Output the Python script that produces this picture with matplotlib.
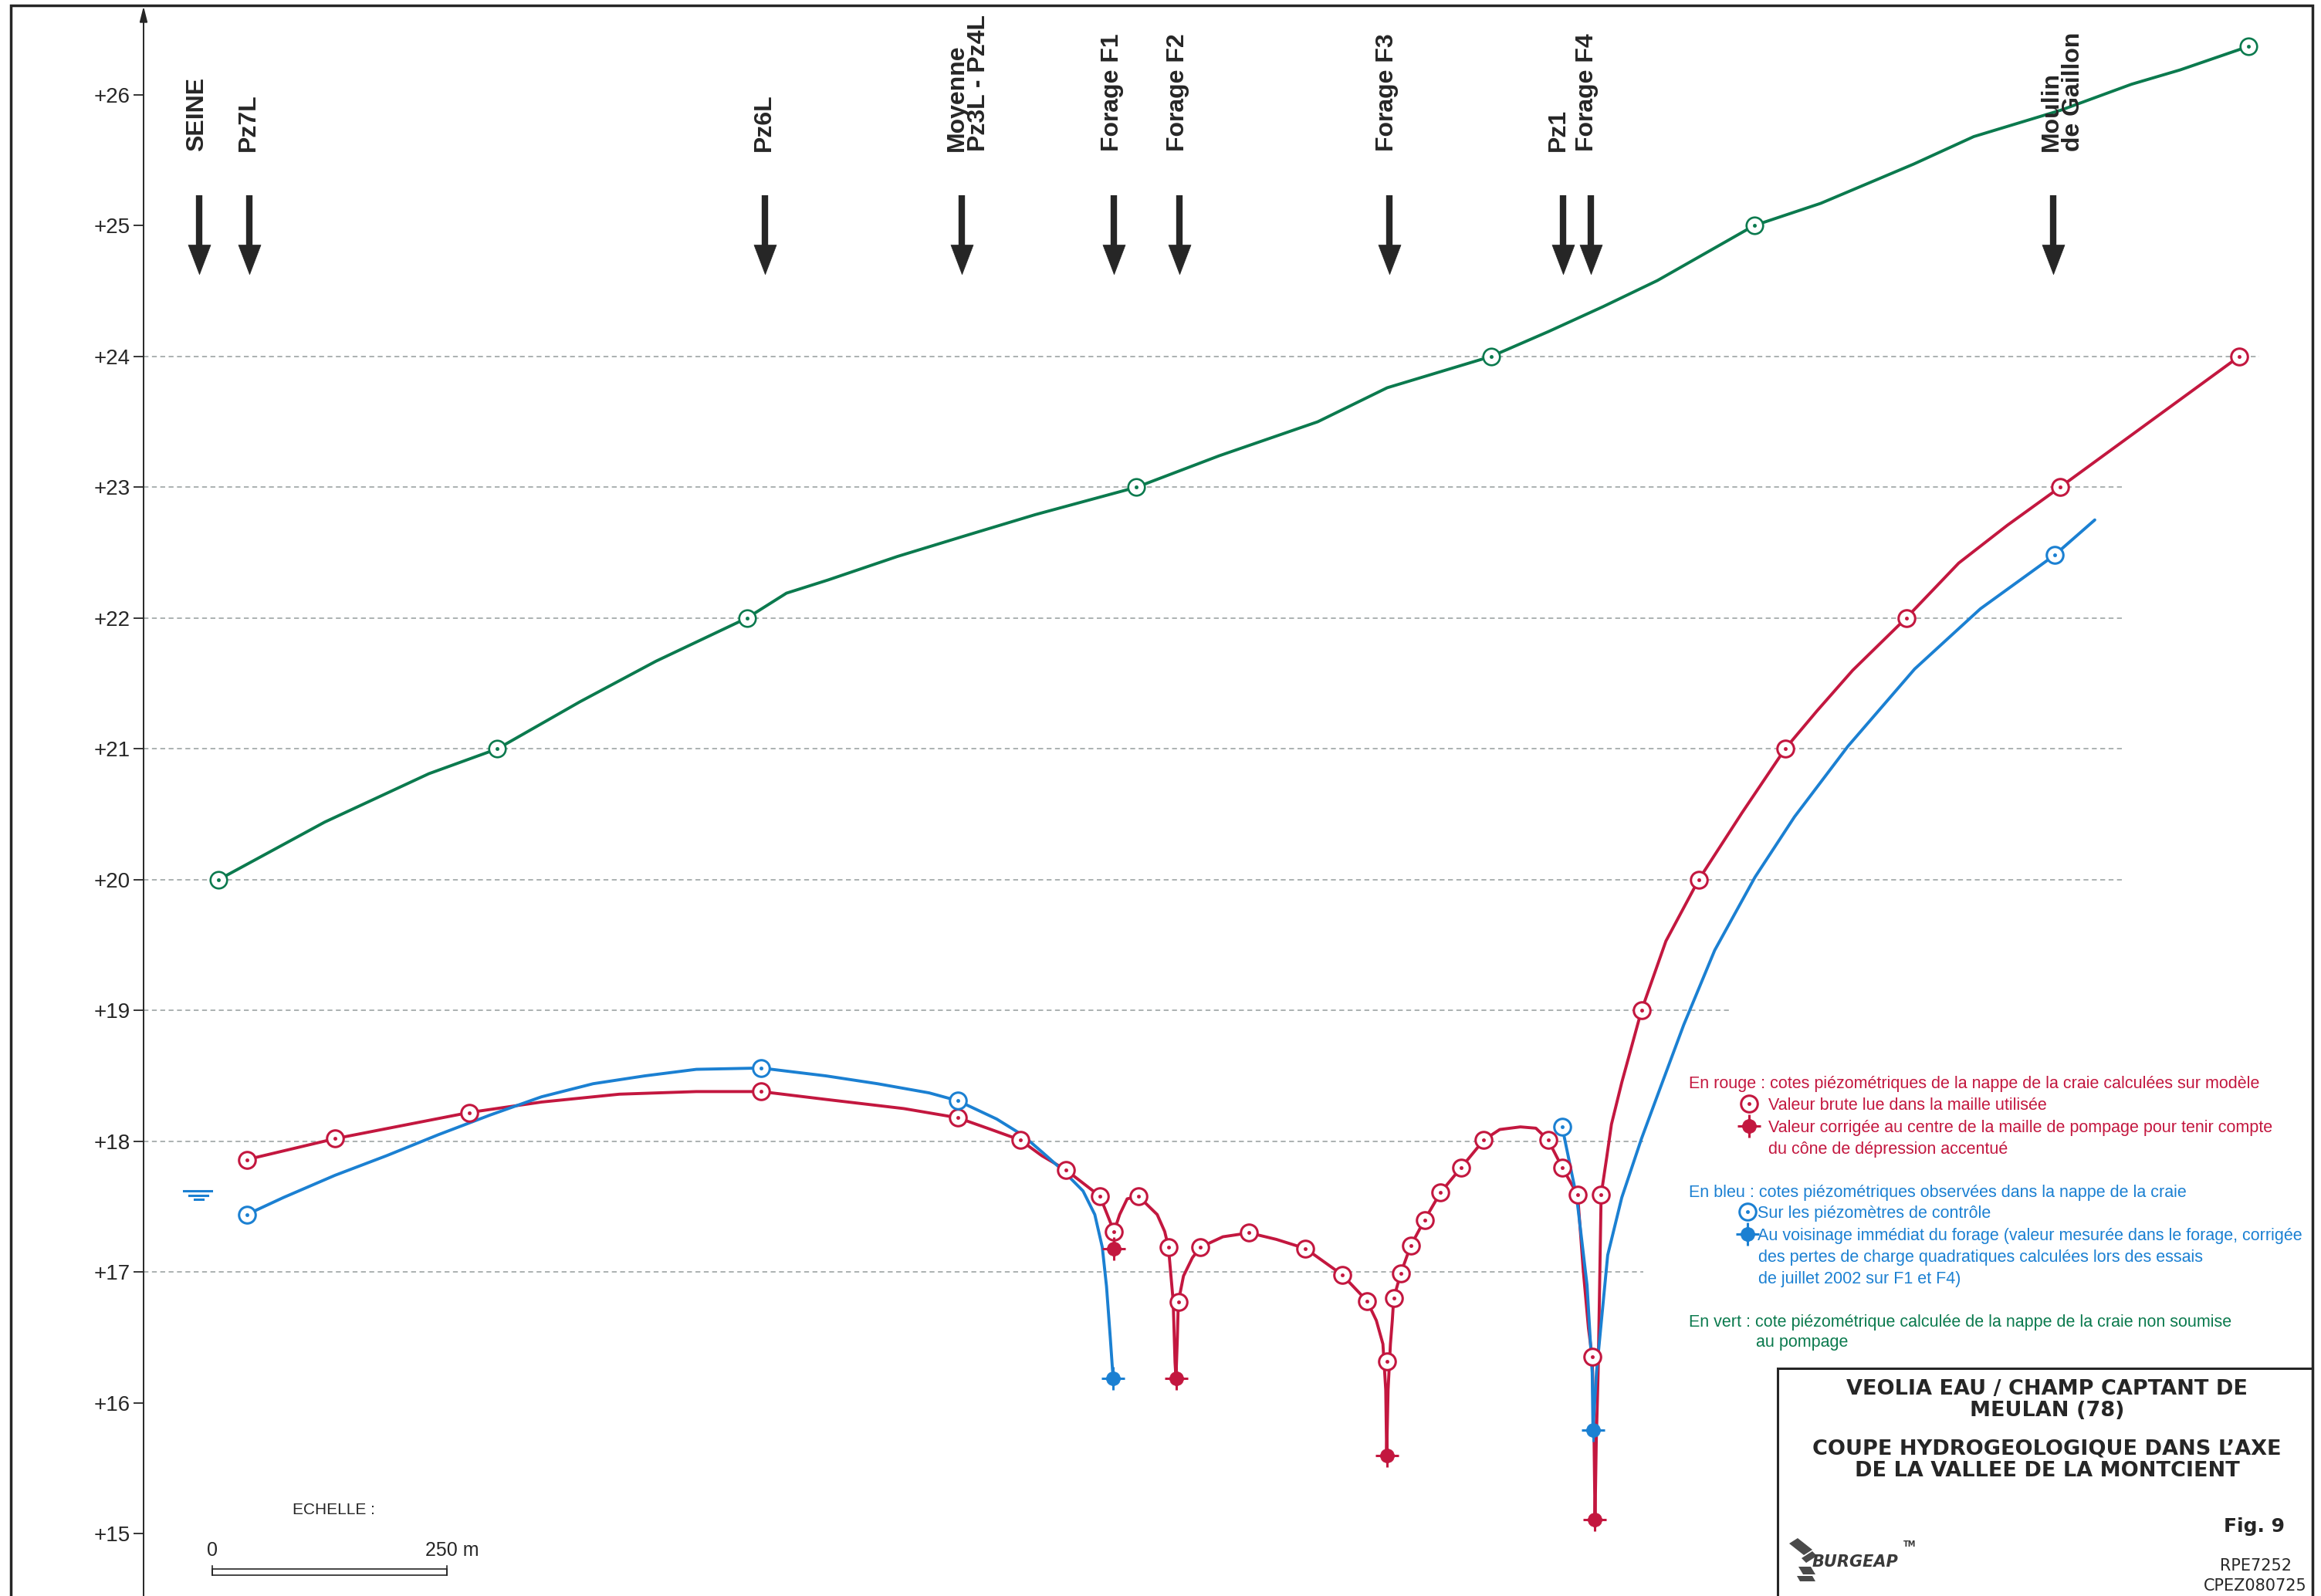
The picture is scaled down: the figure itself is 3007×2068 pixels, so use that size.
import matplotlib
matplotlib.use('Agg')
import matplotlib.pyplot as plt
from matplotlib import font_manager
from matplotlib.patches import Rectangle, Polygon
from matplotlib.path import Path

W, H = 3007, 2068

RED = '#c3173f'
BLUE = '#1b80d2'
GREEN = '#0b7a4e'
DARK = '#262626'
GRID = '#a5abab'

names = {f.name for f in font_manager.fontManager.ttflist}
SANS = 'Liberation Sans' if 'Liberation Sans' in names else 'DejaVu Sans'
NARROW = 'Liberation Sans Narrow' if 'Liberation Sans Narrow' in names else SANS
ECH_SIZE = 16 if NARROW != SANS else 15

# distances along the section in metres, heads in m
levels = list(range(15, 27))

# green : head of the chalk aquifer without pumping
green_x = [80, 193, 304, 377, 465, 546, 643, 685, 729, 803, 876, 950, 1058, 1146,
           1251, 1325, 1436, 1497, 1555, 1613, 1716, 1787, 1886, 1950, 2042, 2118,
           2170, 2243]
green_y = [20.00, 20.44, 20.81, 21.00, 21.36, 21.67, 22.00, 22.19, 22.29, 22.47,
           22.63, 22.79, 23.00, 23.24, 23.50, 23.76, 24.00, 24.19, 24.38, 24.58,
           25.00, 25.17, 25.47, 25.68, 25.88, 26.08, 26.19, 26.37]
green_pts_x = [80, 377, 643, 1058, 1436, 1716, 2243]
green_pts_y = [20.00, 21.00, 22.00, 23.00, 24.00, 25.00, 26.37]

# red : model heads
red_x = [110, 204, 347, 424, 507, 589, 658, 727, 810, 867.5, 903, 934, 957, 983, 1019,
         1034, 1040, 1048, 1060, 1080, 1088, 1092, 1097, 1099, 1100, 1101.5, 1102.5,
         1108, 1117.5, 1126, 1150, 1178, 1207, 1238, 1277, 1303.5, 1313.5, 1320.5,
         1323.5, 1324.5, 1326, 1328.5, 1330.5, 1332, 1339.5, 1350, 1365, 1382, 1404,
         1428, 1445, 1467, 1483.5, 1496.5, 1511.5, 1528, 1534, 1539.5, 1543.5, 1545.5,
         1546.5, 1547.8, 1549.8, 1551.4, 1553, 1559, 1564, 1575, 1596, 1622, 1657,
         1703, 1749, 1783, 1821, 1878, 1934, 1986, 2042, 2233]
red_y = [17.86, 18.02, 18.22, 18.30, 18.36, 18.38, 18.38, 18.32, 18.25, 18.18, 18.09,
         18.01, 17.89, 17.78, 17.58, 17.31, 17.44, 17.56, 17.58, 17.44, 17.31, 17.19,
         16.78, 16.31, 16.19, 16.50, 16.77, 16.97, 17.11, 17.19, 17.27, 17.30, 17.25,
         17.18, 16.98, 16.78, 16.63, 16.45, 16.10, 15.60, 16.10, 16.45, 16.63, 16.80,
         16.99, 17.20, 17.40, 17.61, 17.80, 18.01, 18.09, 18.11, 18.10, 18.01, 17.80,
         17.59, 17.01, 16.57, 16.35, 15.70, 15.11, 15.70, 16.23, 16.90, 17.59, 17.88,
         18.13, 18.45, 19.00, 19.53, 20.00, 20.51, 21.00, 21.29, 21.60, 22.00, 22.42,
         22.71, 23.00, 24.00]
red_pts_x = [110, 204, 347, 658, 867.5, 934, 983, 1019, 1034, 1060, 1092, 1102.5, 1126,
             1178, 1238, 1277, 1303.5, 1325, 1332, 1339.5, 1350, 1365, 1382, 1404, 1428,
             1496.5, 1511.5, 1528, 1544, 1553, 1596, 1657, 1749, 1878, 2042, 2233]
red_pts_y = [17.86, 18.02, 18.22, 18.38, 18.18, 18.01, 17.78, 17.58, 17.31, 17.58,
             17.19, 16.77, 17.19, 17.30, 17.18, 16.98, 16.78, 16.32, 16.80, 16.99,
             17.20, 17.40, 17.61, 17.80, 18.01, 18.01, 17.80, 17.59, 16.35, 17.59,
             19.00, 20.00, 21.00, 22.00, 23.00, 24.00]
red_pump_x = [1034, 1100, 1324.5, 1546.5]
red_pump_y = [17.18, 16.19, 15.60, 15.11]

# blue : observed heads
blue_x1 = [110, 149, 204, 259, 314, 369, 424, 479, 534, 589, 658, 727, 782, 837, 867.5,
           909, 936, 957, 979, 1001, 1013.5, 1021.5, 1026, 1030, 1033]
blue_y1 = [17.44, 17.57, 17.74, 17.89, 18.05, 18.20, 18.34, 18.44, 18.50, 18.55, 18.56,
           18.50, 18.44, 18.37, 18.31, 18.17, 18.05, 17.92, 17.78, 17.62, 17.44, 17.19,
           16.89, 16.50, 16.19]
blue_x2 = [1511.5, 1527, 1538, 1543.5, 1544.3, 1548, 1560, 1575, 1596, 1613, 1641, 1674,
           1717, 1759, 1816, 1887, 1957, 2036, 2079]
blue_y2 = [18.11, 17.57, 16.90, 16.23, 15.79, 16.23, 17.13, 17.57, 18.02, 18.35, 18.89,
           19.46, 20.02, 20.48, 21.02, 21.61, 22.07, 22.48, 22.75]
blue_pts_x = [110, 658, 867.5, 1511.5, 2036]
blue_pts_y = [17.44, 18.56, 18.31, 18.11, 22.48]
blue_pump_x = [1033, 1544.3]
blue_pump_y = [16.19, 15.79]

# locations along the section
loc_names = ['SEINE', 'Pz7L', 'Pz6L', 'Moyenne', 'Pz3L - Pz4L', 'Forage F1',
             'Forage F2', 'Forage F3', 'Pz1', 'Forage F4', 'Moulin', 'de Gaillon']
loc_label_x = [57, 112, 661, 867, 890, 1032, 1102, 1325, 1507, 1538, 2033, 2056]
arrow_x = [59, 112.5, 662, 872, 1034, 1104, 1327, 1512, 1542, 2035]

grid_levels = [24, 23, 22, 21, 20, 19, 18, 17]
grid_ends = [2254, 2109, 2109, 2109, 2109, 1691, 1598, 1598]


def fx(x):
    return x / W


def fy(y):
    return 1 - y / H


fig = plt.figure(figsize=(W / 100, H / 100), dpi=100)
ax = fig.add_axes([186 / W, 0, (2998 - 186) / W, 1 - 8 / H])
ax.set_xlim(0, 2312.6)
ax.set_ylim(14.524, 26.677)
ax.patch.set_visible(False)
for s in ax.spines.values():
    s.set_visible(False)
ax.set_xticks([])
ax.set_yticks(levels)
ax.set_yticklabels(['+%d' % v for v in levels], fontsize=20, fontfamily=SANS, color=DARK)
ax.tick_params(axis='y', direction='out', length=9.5, width=1.3, pad=3, color=DARK)
ax.annotate('', xy=(0, 1), xytext=(0, 0), xycoords='axes fraction',
            arrowprops=dict(arrowstyle='-|>,head_length=0.6,head_width=0.15',
                            color=DARK, lw=1.4, shrinkA=0, shrinkB=0, mutation_scale=20))

ax.hlines(grid_levels, 0, grid_ends, colors=GRID, linestyles=(0, (3.5, 2.5)), lw=1.3, zorder=1)


def open_pts(xs, ys, c, mew=2.2, **kw):
    ax.plot(xs, ys, ls='none', marker='o', ms=15.5, mfc='white', mec=c, mew=mew, zorder=4, **kw)
    ax.plot(xs, ys, ls='none', marker='o', ms=3, mfc=c, mec=c, mew=0.5, zorder=5, **kw)


def pump_pts(xs, ys, c, **kw):
    ax.plot(xs, ys, ls='none', marker='+', ms=22, mew=2.2, color=c, zorder=6, **kw)
    ax.plot(xs, ys, ls='none', marker='o', ms=13, mfc=c, mec=c, mew=0.5, zorder=6, **kw)


line_kw = dict(lw=2.8, zorder=3, solid_joinstyle='round', solid_capstyle='round')
ax.plot(green_x, green_y, color=GREEN, **line_kw)
ax.plot(red_x, red_y, color=RED, **line_kw)
ax.plot(blue_x1, blue_y1, color=BLUE, **line_kw)
ax.plot(blue_x2, blue_y2, color=BLUE, **line_kw)

open_pts(green_pts_x, green_pts_y, GREEN, mew=1.9)
open_pts(red_pts_x, red_pts_y, RED)
open_pts(blue_pts_x, blue_pts_y, BLUE)
pump_pts(red_pump_x, red_pump_y, RED)
pump_pts(blue_pump_x, blue_pump_y, BLUE)

# location arrows and labels
head = Path([(-0.19, 0), (0.19, 0), (0, -0.5), (-0.19, 0)],
            [Path.MOVETO, Path.LINETO, Path.LINETO, Path.CLOSEPOLY])
for x in arrow_x:
    ax.plot([x, x], [25.23, 24.80], color=DARK, lw=6, solid_capstyle='butt', zorder=3)
    ax.plot([x], [24.855], marker=head, ms=55, mfc=DARK, mec=DARK, mew=0.5, zorder=3)
for name, x in zip(loc_names, loc_label_x):
    ax.text(x, 25.57, name, rotation=90, ha='center', va='bottom', fontsize=23,
            fontweight='bold', fontfamily=SANS, color=DARK)

# water level sign near the Seine
for (x0, x1, y) in [(238, 274, 1543), (245, 269, 1548.5), (252, 263, 1554)]:
    ax.plot([fx(x0), fx(x1)], [fy(y), fy(y)], color=BLUE, lw=2.2,
            transform=fig.transFigure, clip_on=False)

# scale bar (250 m)
ax.add_patch(Rectangle((73.2, 14.683), 250, 0.045, fill=False, ec=DARK, lw=1.2))
ax.plot([73.2, 73.2], [14.683, 14.757], color=DARK, lw=1.2)
ax.plot([323.2, 323.2], [14.683, 14.757], color=DARK, lw=1.2)
ax.text(73.2, 14.87, '0', ha='center', va='center', fontsize=18, fontfamily=SANS, color=DARK)
ax.text(300, 14.87, '250 m', ha='left', va='center', fontsize=18, fontfamily=SANS, color=DARK)
ax.text(158.7, 15.18, 'ECHELLE :', ha='left', va='center', fontsize=ECH_SIZE,
        fontfamily=NARROW, color=DARK)

# legend
legend_lines = [
    (2188, 1402, RED, "En rouge : cotes piézométriques de la nappe de la craie calculées sur modèle"),
    (2291, 1430, RED, "Valeur brute lue dans la maille utilisée"),
    (2291, 1459, RED, "Valeur corrigée au centre de la maille de pompage pour tenir compte"),
    (2291, 1487, RED, "du cône de dépression accentué"),
    (2188, 1543, BLUE, "En bleu : cotes piézométriques observées dans la nappe de la craie"),
    (2277, 1570, BLUE, "Sur les piézomètres de contrôle"),
    (2277, 1599, BLUE, "Au voisinage immédiat du forage (valeur mesurée dans le forage, corrigée"),
    (2278, 1627, BLUE, "des pertes de charge quadratiques calculées lors des essais"),
    (2278, 1655, BLUE, "de juillet 2002 sur F1 et F4)"),
    (2188, 1711, GREEN, "En vert : cote piézométrique calculée de la nappe de la craie non soumise"),
    (2275, 1737, GREEN, "au pompage"),
]
for x, y, c, t in legend_lines:
    fig.text(fx(x), fy(y), t, ha='left', va='center_baseline', fontsize=15.5,
             fontfamily=SANS, color=c)
fig_kw = dict(transform=fig.transFigure, clip_on=False)
open_pts([fx(2266)], [fy(1430)], RED, **fig_kw)
pump_pts([fx(2266)], [fy(1459)], RED, **fig_kw)
open_pts([fx(2264)], [fy(1570)], BLUE, **fig_kw)
pump_pts([fx(2264)], [fy(1599)], BLUE, **fig_kw)

# frame and title block
fig.add_artist(Rectangle((fx(14), -0.01), (2996 - 14) / W, 1.01 - 7 / H, fill=False,
                         ec=DARK, lw=2.5, transform=fig.transFigure))
fig.add_artist(Rectangle((fx(2303), -0.01), (2996 - 2303) / W, fy(1773) + 0.01, fill=False,
                         ec=DARK, lw=2.2, transform=fig.transFigure))
title_kw = dict(ha='center', va='center_baseline', fontsize=19.5, fontweight='bold',
                fontfamily='DejaVu Sans', color=DARK)
fig.text(fx(2652), fy(1797), 'VEOLIA EAU / CHAMP CAPTANT DE', **title_kw)
fig.text(fx(2652), fy(1825), 'MEULAN (78)', **title_kw)
fig.text(fx(2652), fy(1875), 'COUPE HYDROGEOLOGIQUE DANS L’AXE', **title_kw)
fig.text(fx(2652), fy(1903), 'DE LA VALLEE DE LA MONTCIENT', **title_kw)
fig.text(fx(2960), fy(1975), 'Fig. 9', ha='right', va='center_baseline', fontsize=18,
         fontweight='bold', fontfamily='DejaVu Sans', color=DARK)
fig.text(fx(2922), fy(2027), 'RPE7252', ha='center', va='center_baseline', fontsize=15,
         fontfamily='DejaVu Sans', color=DARK)
fig.text(fx(2922), fy(2053), 'CPEZ080725', ha='center', va='center_baseline', fontsize=15,
         fontfamily='DejaVu Sans', color=DARK)

# BURGEAP logo (rough)
for pts in [[(2318, 2000), (2329, 1993), (2348, 2008), (2337, 2015)],
            [(2334, 2019), (2348, 2010), (2354, 2016), (2340, 2025)],
            [(2330, 2030), (2346, 2030), (2352, 2040), (2336, 2040)],
            [(2328, 2042), (2348, 2042), (2352, 2049), (2332, 2049)]]:
    fig.add_artist(Polygon([(fx(a), fy(b)) for a, b in pts], closed=True, fc='#4a4a4a',
                           ec='none', transform=fig.transFigure))
fig.text(fx(2348), fy(2022), 'BURGEAP', ha='left', va='center_baseline', fontsize=15,
         fontweight='bold', fontstyle='italic', fontfamily='DejaVu Sans', color='#3a3a3a')
fig.text(fx(2466), fy(2000), 'TM', ha='left', va='center_baseline', fontsize=7,
         fontweight='bold', fontfamily='DejaVu Sans', color='#3a3a3a')

fig.savefig('out.png', dpi=100)
